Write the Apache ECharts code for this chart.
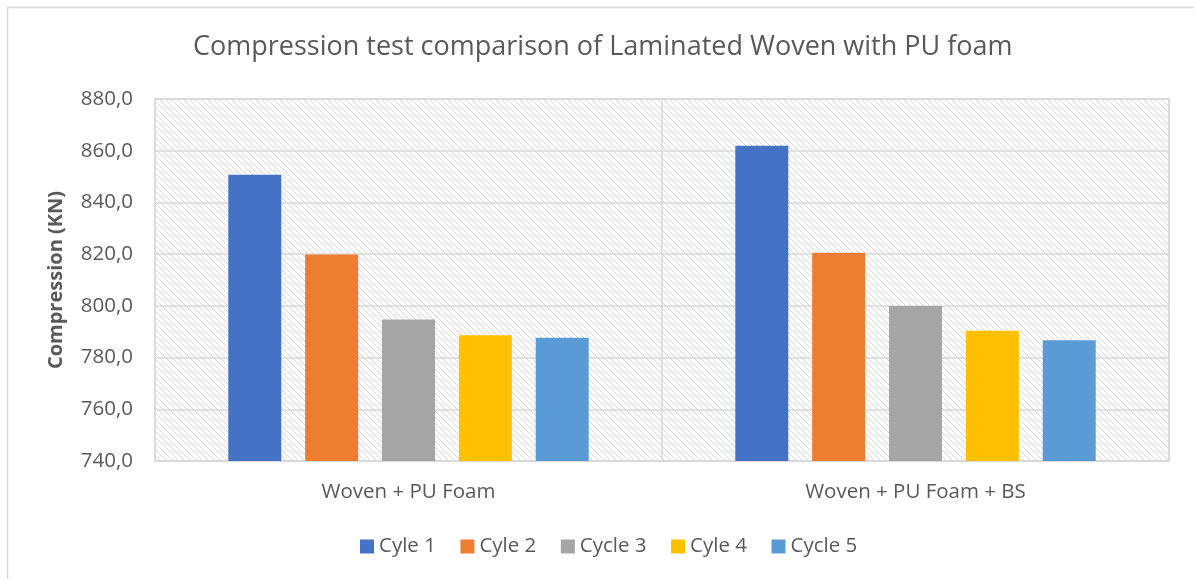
<!DOCTYPE html>
<html>
<head>
    <meta charset="utf-8">
    <title>Compression test</title>
    <script type="text/javascript" src="https://cdn.jsdelivr.net/npm/echarts@6/dist/echarts.min.js"></script>
    <style>
        html, body { margin: 0; padding: 0; background: #fff; }
    </style>
</head>
<body>
    <div id="main" style="width: 1194px;height:579px;"></div>
    <script type="text/javascript">
        // data
        var categories = ['Woven + PU Foam', 'Woven + PU Foam + BS'];
        var seriesNames = ['Cyle 1', 'Cyle 2', 'Cycle 3', 'Cyle 4', 'Cycle 5'];
        var cycle1 = [850.7, 861.9];
        var cycle2 = [819.9, 820.5];
        var cycle3 = [794.7, 799.9];
        var cycle4 = [788.6, 790.4];
        var cycle5 = [787.7, 786.7];
        var colors = ['#4472c4', '#ed7d31', '#a5a5a5', '#ffc000', '#5b9bd5'];

        var values = [cycle1, cycle2, cycle3, cycle4, cycle5];
        var font = '"Open Sans", "Noto Sans", sans-serif';

        // diagonal hatch for the plot area
        var hatch = document.createElement('canvas');
        hatch.width = 6;
        hatch.height = 6;
        var ctx = hatch.getContext('2d');
        ctx.fillStyle = '#ffffff';
        ctx.fillRect(0, 0, 6, 6);
        ctx.strokeStyle = '#d6d6d6';
        ctx.lineWidth = 1;
        ctx.beginPath();
        ctx.moveTo(-1, -1); ctx.lineTo(7, 7);
        ctx.moveTo(-1, 5); ctx.lineTo(1, 7);
        ctx.moveTo(5, -1); ctx.lineTo(7, 1);
        ctx.stroke();

        var option = {
            animation: false,
            textStyle: { fontFamily: font },
            title: {
                text: 'Compression test comparison of Laminated Woven with PU foam',
                left: 188,
                top: 29,
                textStyle: { fontFamily: font, fontSize: 27, fontWeight: 'normal', color: '#595959' }
            },
            graphic: [{
                type: 'rect',
                shape: { x: 7.5, y: 7.5, width: 1300, height: 700 },
                style: { fill: null, stroke: '#d9d9d9', lineWidth: 1.5 },
                silent: true
            }],
            legend: {
                data: seriesNames,
                bottom: 17,
                left: 355,
                icon: 'rect',
                itemWidth: 14,
                itemHeight: 14,
                itemGap: 24.5,
                textStyle: { fontFamily: font, fontSize: 20.5, color: '#595959' }
            },
            grid: {
                left: 155,
                top: 99,
                right: 25,
                bottom: 118,
                show: true,
                borderColor: '#d9d9d9',
                borderWidth: 1.5,
                backgroundColor: { image: hatch, repeat: 'repeat' }
            },
            xAxis: {
                type: 'category',
                data: categories,
                axisLine: { lineStyle: { color: '#d9d9d9', width: 1.5 } },
                axisTick: { show: false },
                splitLine: { show: true, lineStyle: { color: '#d9d9d9', width: 1.5 } },
                axisLabel: { fontFamily: font, fontSize: 20.5, color: '#595959', margin: 21 }
            },
            yAxis: {
                type: 'value',
                min: 740,
                max: 880,
                interval: 20,
                name: 'Compression (KN)',
                nameLocation: 'middle',
                nameGap: 89,
                nameTextStyle: { fontFamily: font, fontSize: 20, fontWeight: 'bold', color: '#595959' },
                axisLine: { show: false },
                axisTick: { show: false },
                splitLine: { lineStyle: { color: '#d9d9d9', width: 1.5 } },
                axisLabel: {
                    fontFamily: font, fontSize: 20.5, color: '#595959', margin: 22,
                    formatter: function (v) { return v.toFixed(1).replace('.', ','); }
                }
            },
            series: seriesNames.map(function (name, i) {
                return {
                    name: name,
                    type: 'bar',
                    data: values[i],
                    barWidth: 53,
                    barGap: '45%',
                    itemStyle: { color: colors[i] }
                };
            })
        };
        echarts.init(document.getElementById('main')).setOption(option);
    </script>
</body>
</html>
